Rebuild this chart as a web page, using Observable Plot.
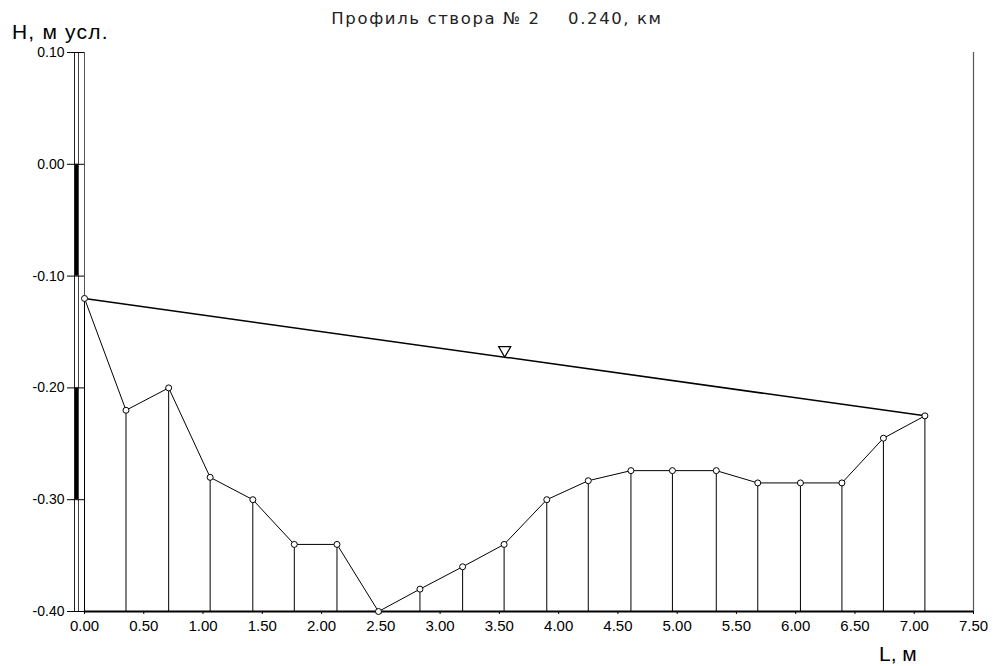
<!DOCTYPE html>
<html>
<head>
<meta charset="utf-8">
<script src="https://cdn.jsdelivr.net/npm/d3@7"></script>
<script src="https://cdn.jsdelivr.net/npm/@observablehq/plot@0.6"></script>
<style>
  html, body { margin: 0; padding: 0; background: #fff; }
  #chart { width: 997px; height: 666px; }
</style>
</head>
<body>
<div id="chart"></div>
<script>
// Distances along the section, m
const distances = [0, 0.35, 0.71, 1.06, 1.42, 1.77, 2.13, 2.48, 2.83, 3.19, 3.54,
                   3.90, 4.25, 4.61, 4.96, 5.33, 5.68, 6.04, 6.39, 6.74, 7.09];
// Bed elevations, m (conditional)
const elevations = [-0.12, -0.22, -0.20, -0.28, -0.30, -0.34, -0.34, -0.40, -0.38, -0.36, -0.34,
                    -0.30, -0.283, -0.274, -0.274, -0.274, -0.285, -0.285, -0.285, -0.245, -0.225];
// Water surface at the two banks
const waterX = [0, 7.09];
const waterY = [-0.12, -0.225];
// Staff gauge black bands (top, bottom)
const gaugeTop = [0.0, -0.2];
const gaugeBottom = [-0.1, -0.3];
// Axes
const xTicks = [0, 0.5, 1, 1.5, 2, 2.5, 3, 3.5, 4, 4.5, 5, 5.5, 6, 6.5, 7, 7.5];
const yTicks = [0.1, 0, -0.1, -0.2, -0.3, -0.4];
const xDomain = [0, 7.5];
const yDomain = [-0.4, 0.1];

const profile = distances.map((x, i) => ({x, y: elevations[i]}));
const water = waterX.map((x, i) => ({x, y: waterY[i]}));
const waterMid = [{x: d3.mean(waterX), y: d3.mean(waterY)}];
const bands = gaugeTop.map((t, i) => ({top: t, bottom: gaugeBottom[i]}));

const fmt = d => d.toFixed(2);

const chart = Plot.plot({
  width: 997,
  height: 666,
  marginLeft: 84,
  marginRight: 24,
  marginTop: 52,
  marginBottom: 55,
  style: {fontFamily: "'Liberation Sans', Arial, sans-serif", background: "white", color: "black"},
  x: {domain: xDomain},
  y: {domain: yDomain},
  marks: [
    // staff gauge at the left edge
    Plot.ruleX(bands, {x: () => xDomain[0], y1: "top", y2: "bottom", dx: -8, strokeWidth: 4, stroke: "black"}),
    Plot.ruleX([xDomain[0]], {y1: yDomain[1], y2: yDomain[0], dx: -10, stroke: "#222", strokeWidth: 1}),
    Plot.ruleX([xDomain[0]], {y1: yDomain[1], y2: yDomain[0], dx: -6, stroke: "#444", strokeWidth: 1}),
    Plot.ruleX([xDomain[0]], {y1: yDomain[1], y2: yDomain[0], stroke: "#555", strokeWidth: 1}),
    // right frame
    Plot.ruleX([xDomain[1]], {y1: yDomain[1], y2: yDomain[0], stroke: "#555", strokeWidth: 1.2}),
    Plot.axisY({ticks: yTicks, tickFormat: fmt, tickSize: 17, tickPadding: 3, fontSize: 14, label: null}),
    Plot.axisX({ticks: xTicks, tickFormat: fmt, tickSize: 3, tickPadding: 6, fontSize: 15, label: null}),
    // bottom line
    Plot.ruleY([yDomain[0]], {stroke: "black", strokeWidth: 2}),
    // verticals
    Plot.ruleX(profile, {x: "x", y1: "y", y2: () => yDomain[0], stroke: "black", strokeWidth: 1}),
    // water surface
    Plot.line(water, {x: "x", y: "y", stroke: "black", strokeWidth: 1.5}),
    Plot.dot(waterMid, {x: "x", y: "y", symbol: "triangle", rotate: 180, r: 4.5, dy: -7, fill: "white", stroke: "black", strokeWidth: 1.2}),
    // bed profile
    Plot.line(profile, {x: "x", y: "y", stroke: "black", strokeWidth: 1}),
    Plot.dot(profile, {x: "x", y: "y", r: 3, fill: "white", stroke: "black", strokeWidth: 1})
  ]
});

document.getElementById("chart").appendChild(chart);

const svg = d3.select(chart);
svg.append("text")
  .attr("x", 497).attr("y", 24)
  .attr("text-anchor", "middle")
  .attr("font-family", "'DejaVu Sans', sans-serif")
  .attr("font-size", 16.5)
  .attr("letter-spacing", 1.6)
  .attr("fill", "#222")
  .attr("xml:space", "preserve")
  .style("white-space", "pre")
  .text("Профиль створа № 2    0.240, км");
svg.append("text")
  .attr("x", 12).attr("y", 39)
  .attr("text-anchor", "start")
  .attr("font-size", 21)
  .attr("letter-spacing", 1.2)
  .attr("fill", "black")
  .text("Н, м усл.");
svg.append("text")
  .attr("x", 879).attr("y", 661)
  .attr("text-anchor", "start")
  .attr("font-size", 21)
  .attr("fill", "black")
  .text("L, м");
</script>
</body>
</html>
